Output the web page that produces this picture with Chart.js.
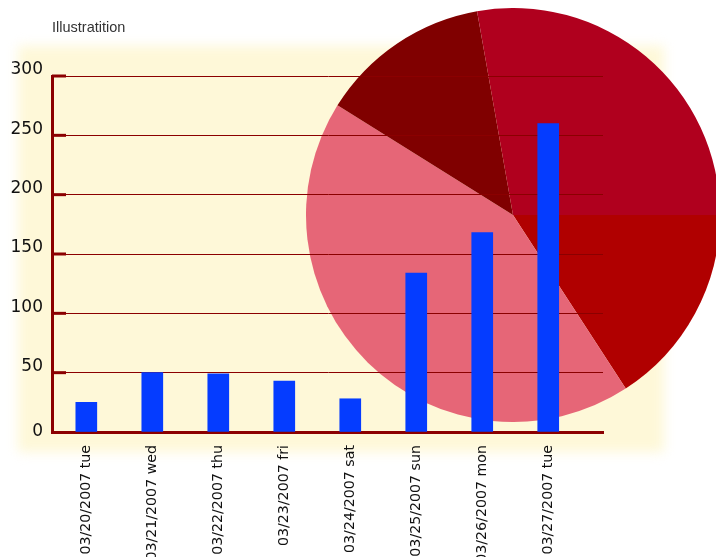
<!DOCTYPE html>
<html><head><meta charset="utf-8">
<script src="https://cdn.jsdelivr.net/npm/chart.js@4.4.1/dist/chart.umd.min.js"></script>
<style>
html,body{margin:0;padding:0;background:#fff;overflow:hidden;}
#wrap{position:relative;width:716px;height:557px;overflow:hidden;background:#fff;}
#cream{position:absolute;left:18px;top:46px;width:646px;height:406px;background:#FEF8D8;filter:blur(6px);}
#pieBox{position:absolute;left:306px;top:8px;width:414px;height:414px;}
#barBox{position:absolute;left:0;top:0;width:716px;height:557px;}
</style></head><body>
<div id="wrap">
<div id="cream"></div>
<div id="pieBox"><canvas id="pie"></canvas></div>
<div id="barBox"><canvas id="bar"></canvas></div>
</div>
<script>
const categories = ['03/20/2007 tue','03/21/2007 wed','03/22/2007 thu','03/23/2007 fri','03/24/2007 sat','03/25/2007 sun','03/26/2007 mon','03/27/2007 tue'];
const visits = [25, 50, 49, 43, 28, 134, 168, 260];
const yTicks = [0, 50, 100, 150, 200, 250, 300];
const pieShares = [57, 155, 48, 100];
const pieColors = ['#B00000', '#E66677', '#800000', '#B0001E'];

new Chart(document.getElementById('pie'), {
  type: 'pie',
  data: { labels: ['a','b','c','d'], datasets: [{ data: pieShares, backgroundColor: pieColors, borderWidth: 0, hoverOffset: 0, offset: 0 }] },
  options: {
    responsive: true, maintainAspectRatio: false, animation: false, events: [],
    rotation: 90,
    layout: { padding: 0 },
    plugins: { legend: { display: false }, tooltip: { enabled: false } }
  }
});

const tickMarks = {
  id: 'tickMarks',
  afterDraw(chart) {
    const y = chart.scales.y, ctx = chart.ctx, left = chart.chartArea.left;
    ctx.save();
    ctx.strokeStyle = '#8B0000';
    ctx.lineWidth = 3;
    y.ticks.forEach(t => {
      if (t.value === 0) return;
      const py = y.getPixelForValue(t.value);
      ctx.beginPath(); ctx.moveTo(left, py); ctx.lineTo(left + 14, py); ctx.stroke();
    });
    ctx.restore();
  }
};

new Chart(document.getElementById('bar'), {
  type: 'bar',
  data: { datasets: [{ data: visits.map((v, i) => ({ x: i, y: v })), backgroundColor: '#053CFF', barThickness: 21 }] },
  options: {
    responsive: true, maintainAspectRatio: false, animation: false, events: [],
    layout: { padding: { left: 0, top: 0, right: 113, bottom: 0 } },
    plugins: {
      legend: { display: false }, tooltip: { enabled: false },
      title: { display: true, text: 'Illustratition', align: 'start', fullSize: false, color: '#333',
        font: { family: 'Liberation Sans', size: 14.5, weight: 'normal' }, padding: { top: 19, bottom: 39.6 } }
    },
    scales: {
      x: {
        type: 'linear', min: -0.52, max: 7.83, offset: false,
        grid: { display: false, drawTicks: false },
        border: { display: true, color: '#8B0000', width: 3 },
        afterBuildTicks: s => { s.ticks = categories.map((c, i) => ({ value: i })); },
        afterFit: s => { s.height = 125; },
        ticks: { autoSkip: false, maxRotation: 90, minRotation: 90, padding: 13, color: '#111',
          font: { family: 'DejaVu Sans', size: 14.2 }, callback: v => categories[v] }
      },
      y: {
        min: 0, max: 300,
        afterBuildTicks: s => { s.ticks = yTicks.map(v => ({ value: v })); },
        afterFit: s => { s.width = 52; },
        grid: { color: '#8B0000', lineWidth: 1, drawTicks: false },
        border: { color: '#8B0000', width: 3 },
        ticks: { padding: 9, color: '#111', font: { family: 'DejaVu Sans', size: 17, lineHeight: '12px' },
          callback: v => v === 0 ? String(v) : [String(v), ''] }
      }
    }
  },
  plugins: [tickMarks]
});
</script>
</body></html>
